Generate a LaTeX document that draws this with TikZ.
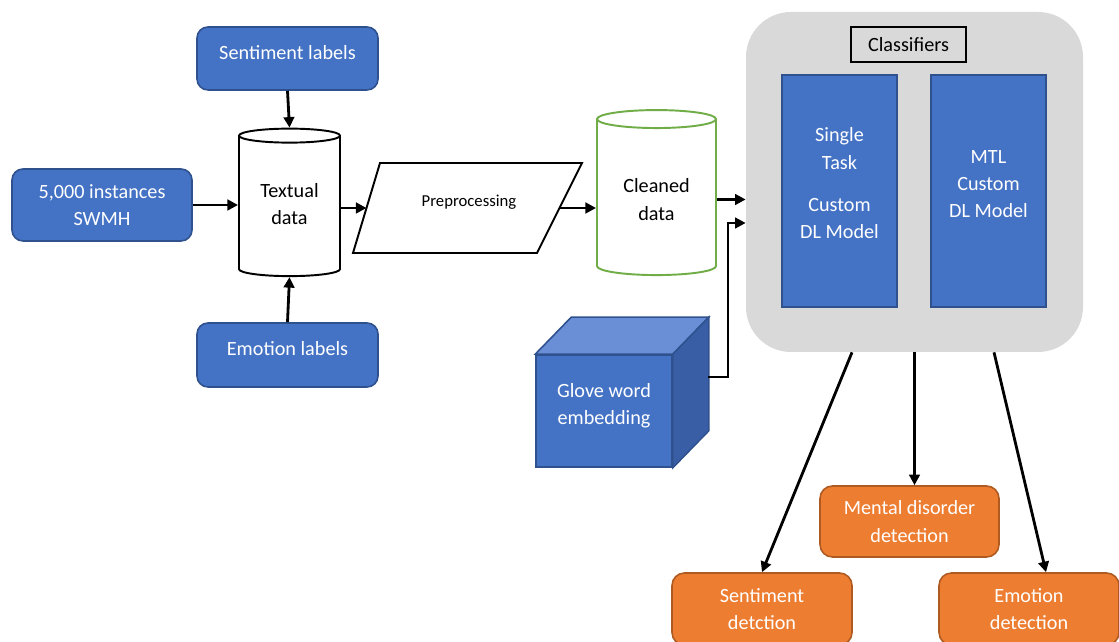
\documentclass[tikz,border=0pt]{standalone}
\usepackage{fontspec}
\setmainfont{Carlito}
\usetikzlibrary{shapes.geometric,arrows.meta,calc}
\definecolor{boxblue}{HTML}{4472C4}
\definecolor{boxblueline}{HTML}{2F528F}
\definecolor{boxorange}{HTML}{ED7D31}
\definecolor{boxorangeline}{HTML}{AE5A21}
\definecolor{panelgray}{HTML}{D9D9D9}
\definecolor{cylgreen}{HTML}{70AD47}
\definecolor{cubetop}{HTML}{6A8FD6}
\definecolor{cubeside}{HTML}{3A5EA6}
\begin{document}
\begin{tikzpicture}[
    txt/.style={font=\fontsize{11.5}{15.5}\selectfont},
    bluebox/.style={txt, draw=boxblueline, line width=0.9pt, fill=boxblue, text=white,
      rounded corners=0.22cm, align=center},
    orangebox/.style={txt, draw=boxorangeline, line width=0.9pt, fill=boxorange, text=white,
      rounded corners=0.25cm, align=center, minimum width=3.6cm, minimum height=1.44cm},
    modelbox/.style={txt, draw=boxblueline, line width=0.9pt, fill=boxblue, text=white,
      align=center, minimum width=2.3cm, minimum height=4.64cm},
    dbcyl/.style={txt, cylinder, shape border rotate=90, draw, line width=1.1pt,
      fill=white, align=center},
    arr/.style={line width=1.6pt, -{Triangle[length=6pt,width=6pt]}},
  ]
  \clip (0,0) rectangle (22.38,12.82);

  % Drawing the inputs
  \node (sentlab) at (5.75,11.65) [bluebox, minimum width=3.62cm, minimum height=1.26cm, text depth=6.5pt] {Sentiment labels};
  \node (swmh) at (2.04,8.72) [bluebox, minimum width=3.6cm, minimum height=1.44cm] {5,000 instances\\SWMH};
  \node (emolab) at (5.75,5.72) [bluebox, minimum width=3.62cm, minimum height=1.28cm, text depth=7pt] {Emotion labels};

  % Drawing the data stores
  \node (textual) at (5.79,8.66) [dbcyl, minimum width=2.02cm, minimum height=2.95cm, aspect=0.2, text depth=4.5pt] {Textual\\data};
  \coordinate (prepTL) at (7.60,9.56);
  \coordinate (prepTR) at (11.64,9.56);
  \coordinate (prepBR) at (10.74,7.76);
  \coordinate (prepBL) at (7.06,7.76);
  \draw [line width=1.1pt] (prepTL) -- (prepTR) -- (prepBR) -- (prepBL) -- cycle;
  \coordinate (prepL) at ($(prepTL)!0.5!(prepBL)$);
  \coordinate (prepR) at ($(prepTR)!0.5!(prepBR)$);
  \node (prep) at (9.38,8.78) [font=\fontsize{9.5}{12}\selectfont] {Preprocessing};
  \node (cleaned) at (13.13,8.83) [dbcyl, draw=cylgreen, minimum width=2.38cm, minimum height=3.3cm, aspect=0.23] {Cleaned\\data};

  % Drawing the embedding cube
  \node (glove) at (12.08,4.6) [txt, draw=boxblueline, line width=0.9pt, fill=boxblue, text=white,
    align=center, minimum width=2.72cm, minimum height=2.24cm, text depth=8pt] {Glove word\\embedding};
  \draw [draw=boxblueline, line width=0.9pt, fill=cubetop] (glove.north west) -- ++(0.72,0.74)
    -- ($(glove.north east)+(0.72,0.74)$) -- (glove.north east) -- cycle;
  \draw [draw=boxblueline, line width=0.9pt, fill=cubeside] (glove.north east) -- ++(0.72,0.74)
    -- ($(glove.south east)+(0.72,0.74)$) -- (glove.south east) -- cycle;
  \coordinate (gloveside) at (14.16,5.28);

  % Drawing the classifiers panel
  \node (classif) at (18.29,9.18) [fill=panelgray, rounded corners=0.9cm, minimum width=6.74cm, minimum height=6.8cm] {};
  \node (classlab) at (18.17,11.93) [txt, draw, line width=0.6pt, fill=panelgray, minimum width=2.3cm, minimum height=0.7cm] {Classifiers};
  \node (single) at (16.79,9.0) [modelbox, text depth=9pt] {Single\\Task\\[8.5pt]Custom\\DL Model};
  \node (mtl) at (19.77,9.0) [modelbox, text depth=8pt] {MTL\\Custom\\DL Model};

  % Drawing the outputs
  \node (mental) at (18.19,2.39) [orangebox, minimum width=3.58cm, minimum height=1.42cm] {Mental disorder\\detection};
  \node (sentdet) at (15.24,0.64) [orangebox] {Sentiment\\detction};
  \node (emodet) at (20.58,0.64) [orangebox] {Emotion\\detection};

  % Drawing the connectors
  \draw [arr] (sentlab.south) -- (textual.north);
  \draw [arr] (emolab.north) -- (textual.south);
  \draw [arr] (swmh.east) -- (swmh.east -| textual.west);
  \draw [arr] (prepL -| textual.east) -- (prepL);
  \draw [arr] (prepR) -- (prepR -| cleaned.west);
  \draw [arr] (cleaned.east) -- (cleaned.east -| classif.west);
  \draw [arr] (gloveside) -- ++(0.4,0) |- ($(classif.west)+(0,-0.82)$);
  \draw [arr] ($(classif.south)+(-1.25,0)$) -- (sentdet.north);
  \draw [arr] (classif.south) -- (classif.south |- mental.north);
  \draw [arr] ($(classif.south)+(1.59,0)$) -- ($(emodet.north)+(0.34,0)$);
\end{tikzpicture}
\end{document}
